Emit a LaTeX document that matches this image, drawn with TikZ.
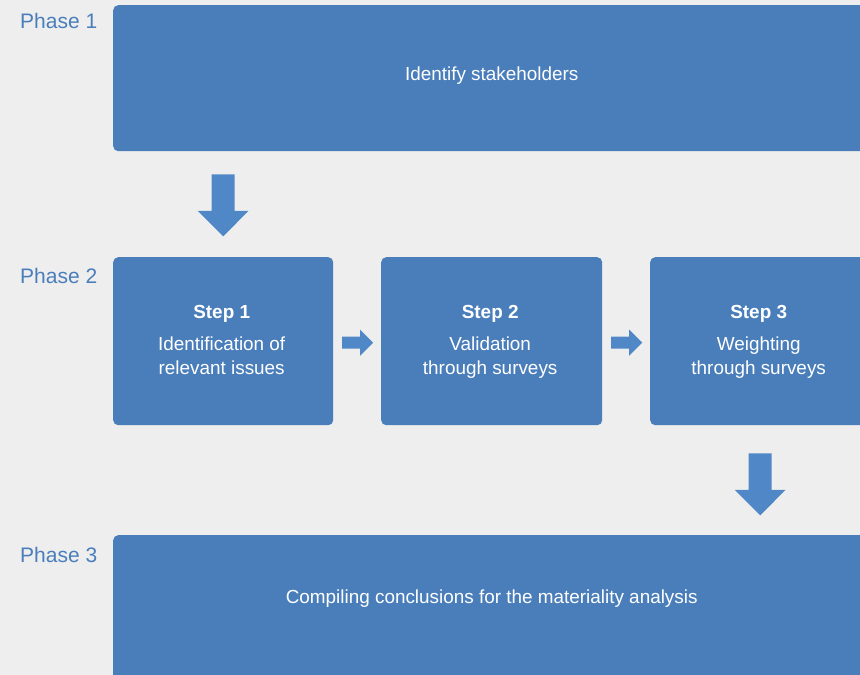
\documentclass[tikz,border=0pt]{standalone}
\usepackage{fontspec}
\setmainfont{Liberation Sans}
\usetikzlibrary{calc}
\definecolor{bgc}{RGB}{238,238,238}
\definecolor{boxc}{RGB}{74,126,187}
\definecolor{arrc}{RGB}{80,136,199}
\begin{document}
\begin{tikzpicture}[x=1pt,y=-1pt,
  box/.style={fill=boxc, rounded corners=5pt, anchor=north west, inner sep=0pt},
  phase/.style={anchor=base west, text=boxc, font=\fontsize{21}{25}\selectfont, inner sep=0pt},
  boxtext/.style={text=white, font=\fontsize{18.9}{24}\selectfont, anchor=base, inner sep=0pt},
  steptitle/.style={boxtext, font=\fontsize{18.9}{24}\selectfont\bfseries},
  downarr/.pic={\fill[arrc] (-11.5,0) -- (11.5,0) -- (11.5,36.5) -- (25.3,36.5) -- (0,62) -- (-25.3,36.5) -- (-11.5,36.5) -- cycle;},
  rightarr/.pic={\fill[arrc] (-15,-6) -- (3,-6) -- (3,-13) -- (16,0) -- (3,13) -- (3,6) -- (-15,6) -- cycle;}
]
\useasboundingbox (0,0) rectangle (860,675);
\clip (0,0) rectangle (860,675);
\fill[bgc] (0,0) rectangle (860,675);

% Phase labels
\node[phase] (ph1) at (20,28.5) {Phase 1};
\node[phase] (ph2) at (20,283) {Phase 2};
\node[phase] (ph3) at (20,562) {Phase 3};

% Phase 1
\node[box, minimum width=757pt, minimum height=146pt] (p1) at (113,5) {};
\node[boxtext] (p1t) at ($(p1.center)+(0,2)$) {Identify stakeholders};

% Steps
\node[box, minimum width=220pt, minimum height=168pt] (s1) at (113,257) {};
\node[box, minimum width=221pt, minimum height=168pt] (s2) at (381,257) {};
\node[box, minimum width=220pt, minimum height=168pt] (s3) at (650,257) {};

\foreach \s/\n/\a/\b in {s1/1/Identification of/relevant issues, s2/2/Validation/through surveys, s3/3/Weighting/through surveys}{
  \node[steptitle] (\s t) at ($(\s.north)+(-1.5,61)$) {Step \n};
  \node[boxtext] (\s a) at ($(\s.north)+(-1.5,93)$) {\a};
  \node[boxtext] (\s b) at ($(\s.north)+(-1.5,117)$) {\b};
}

% Phase 3
\node[box, minimum width=757pt, minimum height=146pt] (p3) at (113,535) {};
\node[boxtext] (p3t) at ($(p3.north)+(0,68)$) {Compiling conclusions for the materiality analysis};

% Block arrows
\pic at ($(s1.north |- p1.south)+(0,23)$) {downarr};
\pic at ($(s1.east)!0.5!(s2.west)+(0,1.5)$) {rightarr};
\pic at ($(s2.east)!0.5!(s3.west)+(0,1.5)$) {rightarr};
\pic at ($(s3.south)+(0,28)$) {downarr};
\end{tikzpicture}
\end{document}
